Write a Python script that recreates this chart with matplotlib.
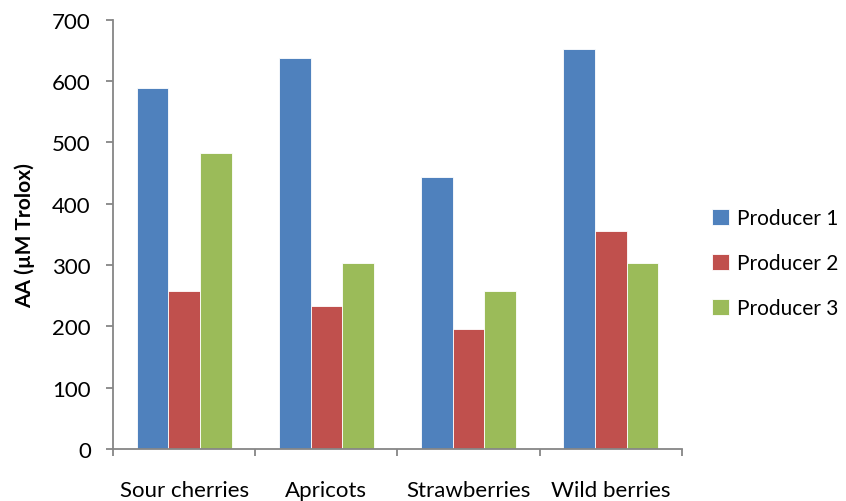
import matplotlib
matplotlib.use("Agg")
import matplotlib.pyplot as plt
import numpy as np

plt.rcParams['font.family'] = ['Lato', 'DejaVu Sans']

categories = ["Sour cherries", "Apricots", "Strawberries", "Wild berries"]
series_names = ["Producer 1", "Producer 2", "Producer 3"]
producer1 = [589, 638, 443, 653]
producer2 = [257, 233, 196, 355]
producer3 = [482, 303, 257, 303]
yticks = [0, 100, 200, 300, 400, 500, 600, 700]
colors = ["#4F81BD", "#C0504D", "#9BBB59"]

fig = plt.figure(figsize=(8.46, 5.02), dpi=100)
ax = fig.add_axes([0.1336, 0.1036, 0.806 - 0.1336, 0.9588 - 0.1036])

x = np.arange(len(categories))
w = 1 / 4.5
for i, (vals, name) in enumerate(zip([producer1, producer2, producer3], series_names)):
    ax.bar(x + (i - 1) * w, vals, width=w, color=colors[i], label=name,
           edgecolor="white", linewidth=0.6)

ax.set_xlim(-0.5, len(categories) - 0.5)
ax.set_ylim(0, 700)
ax.set_yticks(yticks)
ax.set_xticks(x)
ax.set_xticklabels(categories)
ax.set_xticks(np.arange(len(categories) + 1) - 0.5, minor=True)

gray = "#868686"
for s in ["top", "right"]:
    ax.spines[s].set_visible(False)
for s in ["left", "bottom"]:
    ax.spines[s].set_color(gray)
    ax.spines[s].set_linewidth(1.3)

ax.tick_params(axis="y", direction="out", length=5, width=1.3, color=gray,
               labelsize=16, pad=11)
ax.tick_params(axis="x", which="major", length=0, labelsize=16, pad=22)
ax.tick_params(axis="x", which="minor", direction="out", length=5, width=1.3, color=gray)

ax.set_ylabel("AA (µM Trolox)", fontsize=15, fontweight="bold", labelpad=12)

leg = ax.legend(loc="center left", bbox_to_anchor=(1.028, 0.433), frameon=False,
                fontsize=15, handlelength=0.8, handleheight=0.8,
                handletextpad=0.4, labelspacing=1.2, borderaxespad=0.3)

fig.savefig("out.png", dpi=100)
